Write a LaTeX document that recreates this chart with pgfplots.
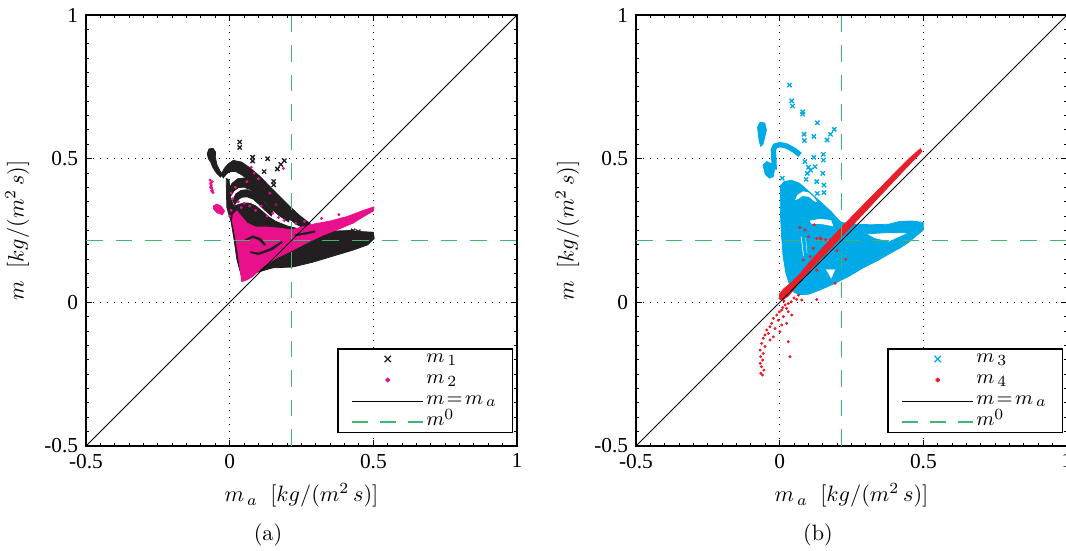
\documentclass[border=0pt]{standalone}
\usepackage{pgfplots}
\pgfplotsset{compat=1.18}
\usepackage{fontspec}
\newfontfamily\tickfont{Liberation Serif}

\definecolor{mblack}{RGB}{35,31,32}
\definecolor{mpink}{RGB}{233,16,140}
\definecolor{mcyan}{RGB}{0,170,230}
\definecolor{mred}{RGB}{232,30,40}
\definecolor{mgreen}{RGB}{64,182,112}

% legend label for the nominal value, with a slightly lowered superscript
\newcommand{\mnom}{$m^{\raisebox{-1.2pt}{$\scriptstyle 0$}}$}

\pgfplotsset{
  panel/.style={
    width=193.95pt, height=193.95pt, scale only axis,
    xmin=-0.5, xmax=1, ymin=-0.5, ymax=1,
    xtick={-0.5,0,0.5,1}, ytick={-0.5,0,0.5,1},
    xticklabels={-0.5,0,0.5,1}, yticklabels={-0.5,0,0.5,1},
    minor tick num=9,
    tick align=inside,
    major tick length=2.6pt, minor tick length=1.5pt,
    every tick/.style={black, line width=0.45pt},
    ticklabel style={font=\tickfont\fontsize{9.6}{11}\selectfont},
    grid=major,
    major grid style={black, line width=0.5pt, dash pattern=on 0.45pt off 2.7pt},
    axis line style={line width=0.8pt},
    label style={font=\fontsize{9.6}{11}\selectfont},
    xlabel={$m_{\,a}\;\;[kg/(m^{2}\,s)]$},
    ylabel={$m\;\;[kg/(m^{2}\,s)]$},
    legend style={at={(0.991,0.03)}, anchor=south east, draw=black,
      line width=0.6pt, font=\fontsize{9.4}{11}\selectfont,
      inner xsep=6pt, inner ysep=0.5pt, row sep=1.4pt,
      nodes={inner sep=1pt, text depth=1.6pt, text height=4.5pt}},
    legend cell align=left,
    legend image code/.code={\draw[mark repeat=2,mark phase=2,##1]
      plot coordinates {(0pt,0pt) (16pt,0pt) (32pt,0pt)};},
  },
  region/.style={draw=#1, fill=#1, line width=0.35pt, even odd rule,
    unbounded coords=jump, forget plot},
  xmark/.style={only marks, mark=x, mark size=1.35pt, #1,
    mark options={line width=0.6pt}, forget plot},
  dmark/.style={only marks, mark=*, mark size=0.45pt, draw=#1, fill=#1, forget plot},
  refline/.style={black, line width=0.45pt, forget plot},
  nomline/.style={mgreen, line width=0.75pt, dash pattern=on 7.5pt off 5.8pt, forget plot},
}

\begin{document}
\begin{tikzpicture}
\useasboundingbox (0,0) rectangle (479.7pt,247.5pt);
\clip (0,0) rectangle (479.7pt,247.5pt);

% ---------------- panel (a): m_1 and m_2 ----------------
\begin{axis}[panel, at={(38.7pt,46.8pt)}, anchor=south west]
% m_1: blob and stroke at the top left
\addplot[region=mblack] coordinates {(-0.078,0.518) (-0.072,0.534) (-0.058,0.536)
 (-0.049,0.523) (-0.050,0.505) (-0.044,0.478) (-0.034,0.458) (-0.024,0.445)
 (-0.032,0.436) (-0.046,0.450) (-0.058,0.468) (-0.066,0.488) (-0.074,0.500) (-0.078,0.518)};
% m_1: outer arch
\addplot[region=mblack] coordinates {(-0.030,0.445) (-0.018,0.467) (-0.005,0.482)
 (0.013,0.494) (0.042,0.488) (0.072,0.467) (0.106,0.438) (0.140,0.403) (0.175,0.368)
 (0.210,0.333) (0.245,0.301) (0.280,0.274) (0.270,0.253) (0.235,0.270) (0.200,0.295)
 (0.165,0.326) (0.130,0.360) (0.100,0.392) (0.072,0.420) (0.045,0.442) (0.020,0.456)
 (0.000,0.455) (-0.012,0.446) (-0.022,0.433) (-0.030,0.445)};
% m_1: second arch
\addplot[region=mblack] coordinates {(-0.005,0.390) (0.008,0.414) (0.028,0.430)
 (0.050,0.433) (0.075,0.423) (0.100,0.403) (0.125,0.377) (0.150,0.349) (0.180,0.321)
 (0.210,0.298) (0.205,0.280) (0.172,0.302) (0.142,0.328) (0.117,0.354) (0.092,0.378)
 (0.070,0.393) (0.050,0.401) (0.030,0.399) (0.015,0.388) (0.005,0.372) (-0.005,0.390)};
% m_1: third arch
\addplot[region=mblack] coordinates {(0.010,0.355) (0.022,0.378) (0.040,0.390)
 (0.062,0.392) (0.085,0.382) (0.105,0.364) (0.125,0.342) (0.150,0.317) (0.145,0.301)
 (0.120,0.323) (0.100,0.343) (0.082,0.359) (0.062,0.367) (0.042,0.366) (0.028,0.356)
 (0.018,0.340) (0.010,0.355)};
% m_1: main body and tail
\addplot[region=mblack] coordinates {(-0.012,0.432) (-0.002,0.425) (0.004,0.360)
 (0.015,0.335) (0.030,0.340) (0.050,0.346) (0.070,0.345) (0.090,0.336) (0.110,0.320)
 (0.135,0.298) (0.160,0.282) (0.200,0.266) (0.240,0.256) (0.300,0.250) (0.360,0.248)
 (0.420,0.250) (0.460,0.246) (0.500,0.244) (0.503,0.222) (0.480,0.200) (0.430,0.182)
 (0.350,0.158) (0.290,0.140) (0.220,0.123) (0.150,0.120) (0.080,0.100) (0.040,0.095)
 (0.025,0.150) (0.015,0.220) (0.005,0.280) (-0.010,0.330) (-0.012,0.432)};
% m_2: main fan with its gaps
\addplot[region=mpink] coordinates {(0.012,0.305) (0.025,0.318) (0.040,0.300)
 (0.060,0.276) (0.090,0.262) (0.130,0.262) (0.175,0.258) (0.215,0.252) (0.250,0.262)
 (0.290,0.272) (0.350,0.283) (0.410,0.299) (0.465,0.320) (0.502,0.332) (0.500,0.318)
 (0.465,0.298) (0.430,0.276) (0.380,0.255) (0.325,0.234) (0.270,0.208) (0.220,0.182)
 (0.170,0.158) (0.120,0.128) (0.080,0.090) (0.060,0.078) (0.042,0.072) (0.036,0.120)
 (0.028,0.180) (0.018,0.240) (0.010,0.280) (0.012,0.305)
 (nan,nan)
 (0.050,0.220) (0.080,0.235) (0.110,0.225) (0.130,0.200) (0.120,0.195) (0.100,0.215)
 (0.080,0.222) (0.055,0.210) (0.050,0.220)
 (nan,nan)
 (0.070,0.180) (0.100,0.175) (0.140,0.190) (0.180,0.215) (0.190,0.210) (0.150,0.180)
 (0.100,0.163) (0.070,0.170) (0.070,0.180)
 (nan,nan)
 (0.225,0.238) (0.265,0.246) (0.300,0.252) (0.300,0.242) (0.265,0.234) (0.225,0.228) (0.225,0.238)};
% m_2: small cluster at the left
\addplot[region=mpink] coordinates {(-0.057,0.335) (-0.045,0.342) (-0.030,0.335)
 (-0.018,0.318) (-0.025,0.305) (-0.045,0.312) (-0.056,0.325) (-0.057,0.335)};
% m_2: scattered points
\addplot[dmark=mpink] coordinates {(-0.068,0.425) (-0.066,0.415) (-0.064,0.405)
 (-0.062,0.398) (-0.060,0.390) (-0.058,0.382) (-0.065,0.410) (-0.061,0.420)
 (-0.067,0.400) (-0.063,0.388) (0.005,0.380) (0.010,0.360) (0.020,0.400) (0.030,0.350)
 (0.040,0.330) (0.050,0.345) (0.070,0.335) (0.090,0.320) (0.110,0.335) (0.130,0.300)
 (0.150,0.310) (0.170,0.295) (0.190,0.285) (0.120,0.400) (0.100,0.430) (0.085,0.450)
 (0.187,0.466) (0.140,0.380) (0.060,0.420) (0.160,0.340) (0.075,0.470) (0.005,0.320)
 (0.000,0.300) (0.015,0.290) (0.230,0.275) (0.260,0.282) (0.320,0.292) (0.380,0.305)};
% m_1: isolated points
\addplot[xmark=mblack] coordinates {(0.035,0.558) (0.035,0.539) (0.080,0.505)
 (0.080,0.492) (0.132,0.500) (0.178,0.480) (0.190,0.493) (0.166,0.464) (0.120,0.455)
 (0.153,0.421) (0.153,0.409) (0.120,0.400) (0.123,0.383) (0.152,0.376) (0.153,0.346)
 (0.430,0.249) (0.448,0.246)};
% reference lines
\addplot[refline] coordinates {(-0.5,-0.5) (1,1)};
\addplot[nomline] coordinates {(0.215,-0.5) (0.215,1)};
\addplot[nomline] coordinates {(-0.5,0.215) (1,0.215)};
% legend
\addlegendimage{only marks, mark=x, mark size=2pt, mblack, mark options={line width=0.6pt}}
\addlegendimage{only marks, mark=*, mark size=0.75pt, mpink}
\addlegendimage{black, line width=0.45pt}
\addlegendimage{mgreen, line width=0.75pt, dash pattern=on 7pt off 5.5pt}
\legend{$m_{\,1}$, $m_{\,2}$, $m\!=\!m_{\,a}$, \mnom}
\end{axis}

% ---------------- panel (b): m_3 and m_4 ----------------
\begin{axis}[panel, at={(286.2pt,46.8pt)}, anchor=south west]
% m_3: main body with its gaps
\addplot[region=mcyan] coordinates {(0.003,0.405) (0.015,0.420) (0.040,0.425)
 (0.068,0.415) (0.095,0.392) (0.125,0.365) (0.155,0.338) (0.180,0.315) (0.200,0.292)
 (0.215,0.278) (0.260,0.272) (0.320,0.270) (0.380,0.272) (0.420,0.282) (0.460,0.283)
 (0.500,0.278) (0.500,0.252) (0.480,0.235) (0.450,0.210) (0.420,0.190) (0.380,0.168)
 (0.340,0.145) (0.290,0.120) (0.240,0.090) (0.190,0.065) (0.140,0.043) (0.100,0.028)
 (0.070,0.027) (0.050,0.035) (0.035,0.060) (0.022,0.100) (0.012,0.160) (0.006,0.240)
 (0.002,0.320) (0.003,0.405)
 (nan,nan)
 (0.158,0.116) (0.196,0.116) (0.180,0.078) (0.158,0.116)
 (nan,nan)
 (0.300,0.238) (0.380,0.243) (0.450,0.242) (0.380,0.210) (0.330,0.222) (0.300,0.238)
 (nan,nan)
 (0.050,0.352) (0.060,0.375) (0.080,0.388) (0.100,0.385) (0.120,0.368) (0.136,0.345)
 (0.120,0.350) (0.100,0.366) (0.080,0.368) (0.065,0.358) (0.050,0.352)
 (nan,nan)
 (0.100,0.285) (0.140,0.292) (0.180,0.288) (0.190,0.262) (0.150,0.270) (0.110,0.272) (0.100,0.285)
 (nan,nan)
 (0.072,0.230) (0.078,0.230) (0.086,0.160) (0.080,0.160) (0.072,0.230)
 (nan,nan)
 (0.088,0.225) (0.093,0.225) (0.098,0.170) (0.093,0.170) (0.088,0.225)};
% m_3: upper cluster
\addplot[region=mcyan] coordinates {(-0.077,0.610) (-0.068,0.627) (-0.052,0.624)
 (-0.046,0.600) (-0.052,0.575) (-0.058,0.550) (-0.066,0.543) (-0.072,0.565) (-0.077,0.610)};
% m_3: hook
\addplot[mcyan, line width=2.4pt, forget plot] coordinates {(0.071,0.513) (0.050,0.530)
 (0.024,0.544) (0.001,0.549) (-0.016,0.544) (-0.022,0.530) (-0.020,0.495) (-0.019,0.462)};
\addplot[region=mcyan] coordinates {(-0.058,0.478) (-0.045,0.490) (-0.028,0.482)
 (-0.018,0.462) (-0.022,0.438) (-0.035,0.432) (-0.050,0.445) (-0.058,0.478)};
% m_3: isolated points
\addplot[xmark=mcyan] coordinates {(0.034,0.756) (0.042,0.701) (0.045,0.683)
 (0.080,0.663) (0.080,0.655) (0.131,0.625) (0.085,0.585) (0.086,0.563) (0.119,0.577)
 (0.190,0.602) (0.177,0.585) (0.165,0.565) (0.152,0.515) (0.152,0.495) (0.119,0.505)
 (0.088,0.490) (0.123,0.472) (0.096,0.449) (0.150,0.449) (0.092,0.428) (0.129,0.420)
 (0.154,0.408) (0.154,0.382) (0.131,0.379) (0.009,0.432) (0.115,0.321) (0.324,0.258)
 (0.100,0.470) (0.108,0.460)};
% m_4: band along the diagonal
\addplot[region=mred] coordinates {(0.000,0.030) (0.015,0.048) (0.040,0.068)
 (0.070,0.098) (0.100,0.135) (0.150,0.190) (0.200,0.245) (0.250,0.297) (0.300,0.348)
 (0.350,0.398) (0.400,0.450) (0.450,0.500) (0.490,0.535) (0.495,0.525) (0.450,0.478)
 (0.400,0.425) (0.350,0.372) (0.300,0.318) (0.250,0.265) (0.200,0.212) (0.150,0.160)
 (0.100,0.108) (0.070,0.075) (0.050,0.045) (0.030,0.022) (0.010,0.008) (-0.002,0.012)
 (0.000,0.030)};
% m_4: scattered points
\addplot[dmark=mred] coordinates {(0.030,-0.004) (0.019,-0.009) (0.011,-0.018)
 (0.024,-0.021) (0.007,-0.027) (-0.001,-0.033) (0.030,-0.033) (-0.010,-0.044)
 (0.013,-0.050) (-0.022,-0.056) (-0.005,-0.062) (-0.028,-0.073) (0.007,-0.079)
 (-0.034,-0.085) (-0.016,-0.091) (-0.045,-0.096) (0.001,-0.102) (-0.039,-0.108)
 (-0.051,-0.114) (-0.022,-0.120) (-0.057,-0.125) (-0.034,-0.131) (-0.063,-0.143)
 (-0.051,-0.154) (-0.068,-0.166) (-0.057,-0.178) (-0.066,-0.189) (-0.059,-0.201)
 (-0.068,-0.212) (-0.063,-0.224) (-0.055,-0.236) (-0.066,-0.247) (-0.060,-0.253)
 (0.030,-0.137) (0.036,-0.189) (0.059,0.010) (0.077,0.008) (0.129,0.010) (0.042,-0.044)
 (0.024,-0.073) (0.015,0.005) (0.040,0.002) (0.050,0.015) (0.065,0.025)
 (0.088,0.252) (0.100,0.229) (0.117,0.188) (0.106,0.159) (0.082,0.147) (0.140,0.223)
 (0.175,0.217) (0.164,0.194) (0.193,0.066) (0.129,0.112) (0.129,0.222) (0.145,0.220)
 (0.160,0.218) (0.181,0.214) (0.070,0.260) (0.120,0.270) (0.200,0.180) (0.230,0.150)};
% reference lines
\addplot[refline] coordinates {(-0.5,-0.5) (1,1)};
\addplot[nomline] coordinates {(0.215,-0.5) (0.215,1)};
\addplot[nomline] coordinates {(-0.5,0.215) (1,0.215)};
% legend
\addlegendimage{only marks, mark=x, mark size=2pt, mcyan, mark options={line width=0.6pt}}
\addlegendimage{only marks, mark=*, mark size=0.75pt, mred}
\addlegendimage{black, line width=0.45pt}
\addlegendimage{mgreen, line width=0.75pt, dash pattern=on 7pt off 5.5pt}
\legend{$m_{\,3}$, $m_{\,4}$, $m\!=\!m_{\,a}$, \mnom}
\end{axis}

\node[font=\fontsize{10}{12}\selectfont] at (120.6pt,7pt) {(a)};
\node[font=\fontsize{10}{12}\selectfont] at (368.1pt,7pt) {(b)};
\end{tikzpicture}
\end{document}
